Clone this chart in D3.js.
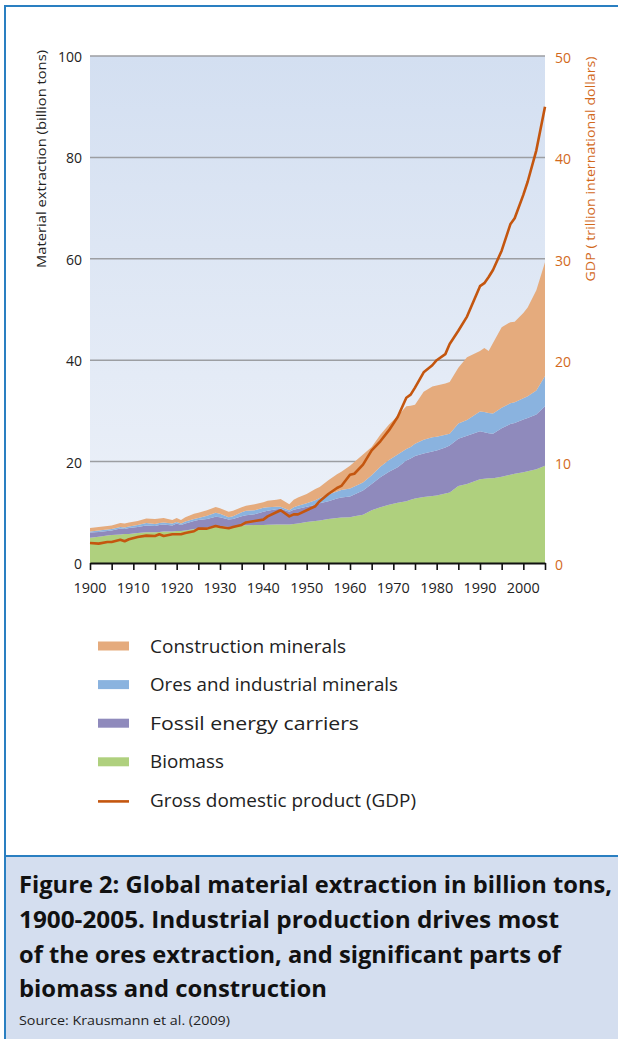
<!DOCTYPE html>
<html><head><meta charset="utf-8">
<script src="https://cdn.jsdelivr.net/npm/d3@7"></script>
<style>body{margin:0;background:#fff} text{font-family:"Open Sans",sans-serif}</style>
</head><body><svg id="c" width="618" height="1039"></svg>
<script>
const years=[1900,1902,1904,1905,1907,1908,1909,1911,1913,1915,1916,1917,1919,1920,1921,1922,1924,1925,1927,1929,1930,1932,1933,1935,1936,1938,1940,1941,1943,1944,1946,1947,1948,1950,1952,1953,1955,1957,1958,1960,1961,1963,1965,1967,1969,1971,1973,1974,1975,1977,1979,1980,1982,1983,1985,1987,1990,1991,1992,1993,1995,1997,1998,2000,2001,2003,2005];
const biomass=[5.0,5.2,5.4,5.5,5.6,5.7,5.7,5.9,6.05,6.05,6.1,6.2,6.2,6.3,6.3,6.4,6.7,6.8,7.0,7.3,7.3,7.1,7.2,7.4,7.45,7.5,7.5,7.55,7.6,7.6,7.6,7.7,7.8,8.1,8.3,8.4,8.7,8.9,8.95,9.0,9.2,9.5,10.4,11.0,11.5,11.9,12.2,12.5,12.7,13.0,13.2,13.3,13.7,13.9,15.2,15.6,16.5,16.6,16.7,16.7,17.0,17.4,17.6,17.9,18.1,18.5,19.2];
const fossil=[1.0,0.9,0.9,0.9,1.2,1.0,1.2,1.2,1.35,1.25,1.4,1.4,1.2,1.5,1.2,1.4,1.6,1.7,1.7,1.8,1.7,1.5,1.5,1.8,1.95,2.1,2.6,2.75,3.0,3.1,2.5,2.8,2.9,3.0,3.2,3.4,3.5,3.8,3.95,4.1,4.3,4.8,5.2,5.9,6.5,7.0,8.0,8.1,8.4,8.6,8.8,8.9,9.1,9.3,9.3,9.5,9.5,9.2,8.9,8.8,9.6,10.0,10.0,10.4,10.5,10.8,11.7];
const ores=[0.2,0.3,0.3,0.3,0.3,0.3,0.3,0.4,0.5,0.4,0.4,0.4,0.4,0.3,0.3,0.4,0.4,0.4,0.6,0.8,0.7,0.4,0.5,0.8,0.9,0.8,0.8,0.7,0.5,0.4,0.3,0.5,0.6,0.7,0.9,1.0,1.3,1.4,1.5,1.6,1.6,1.6,1.7,2.1,2.3,2.5,2.3,2.3,2.4,2.7,2.8,2.7,2.5,2.3,3.0,3.1,3.9,4.0,4.0,4.0,4.0,4.1,4.1,4.2,4.3,4.7,6.0];
const construction=[0.7,0.7,0.7,0.7,0.8,0.8,0.8,0.8,0.9,1.0,0.9,0.9,0.7,0.8,0.7,0.8,1.0,1.0,1.1,1.15,1.1,1.1,1.1,1.0,1.0,1.2,1.1,1.3,1.4,1.5,1.2,1.5,1.6,1.8,2.2,2.2,2.8,3.4,3.6,4.5,4.8,5.5,5.6,6.3,7.0,7.6,8.4,8.1,7.7,9.5,10.0,10.1,10.1,10.2,11.0,12.4,11.9,12.6,12.2,13.9,15.9,16.0,15.9,16.8,17.5,19.8,22.4];
const gdp=[1.97,1.91,2.07,2.07,2.30,2.14,2.34,2.56,2.70,2.66,2.83,2.66,2.83,2.83,2.83,2.96,3.13,3.39,3.39,3.65,3.55,3.42,3.55,3.75,4.0,4.14,4.28,4.6,5.0,5.2,4.6,4.8,4.8,5.2,5.6,6.1,6.8,7.4,7.6,8.7,8.8,9.7,11.1,12.0,13.1,14.4,16.3,16.6,17.3,18.8,19.5,20.0,20.6,21.6,22.9,24.3,27.3,27.6,28.2,28.9,30.8,33.4,34.0,36.3,37.6,40.7,45.0];
const xTickValues=d3.range(1900,2006,5);
const xLabelValues=[1900,1910,1920,1930,1940,1950,1960,1970,1980,1990,2000];
const leftTicks=[0,20,40,60,80,100];
const rightTicks=[0,10,20,30,40,50];
const keys=["biomass","fossil","ores","construction"];
const legendLabels=["Construction minerals","Ores and industrial minerals","Fossil energy carriers","Biomass","Gross domestic product (GDP)"];
const colors={construction:"#e5ab7d",ores:"#8ab3df",fossil:"#8f8abc",biomass:"#afd07e",gdp:"#c4560f"};
const captionLines=["Figure 2: Global material extraction in billion tons,","1900-2005. Industrial production drives most","of the ores extraction, and significant parts of","biomass and construction"];
const sourceText="Source: Krausmann et al. (2009)";

const svg=d3.select("#c");
const L=90,R=545,T=56,B=563;
const x=d3.scaleLinear().domain([1900,2005]).range([L,R]);
const y=d3.scaleLinear().domain([0,100]).range([B,T]);
const y2=d3.scaleLinear().domain([0,50]).range([B,T]);

const defs=svg.append("defs");
const g=defs.append("linearGradient").attr("id","bg").attr("x1",0).attr("y1",0).attr("x2",0).attr("y2",1);
g.append("stop").attr("offset","0%").attr("stop-color","#d3dff1");
g.append("stop").attr("offset","100%").attr("stop-color","#eef2f9");

// frame
svg.append("rect").attr("x",5).attr("y",856).attr("width",613).attr("height",183).attr("fill","#d4deef");
svg.append("line").attr("x1",5).attr("x2",618).attr("y1",6).attr("y2",6).attr("stroke","#2a7fc1").attr("stroke-width",2);
svg.append("line").attr("x1",5).attr("x2",618).attr("y1",856).attr("y2",856).attr("stroke","#2a7fc1").attr("stroke-width",2);
svg.append("line").attr("x1",5).attr("x2",5).attr("y1",5).attr("y2",1039).attr("stroke","#2a7fc1").attr("stroke-width",2);

// plot bg
svg.append("rect").attr("x",L).attr("y",T).attr("width",R-L).attr("height",B-T).attr("fill","url(#bg)");
// grid
svg.append("g").selectAll("line").data(leftTicks.filter(d=>d>0)).join("line")
  .attr("x1",L).attr("x2",R).attr("y1",d=>y(d)).attr("y2",d=>y(d)).attr("stroke","#9c9ea2").attr("stroke-width",1.5);

const data=years.map((yr,i)=>({year:yr,biomass:biomass[i],fossil:fossil[i],ores:ores[i],construction:construction[i],gdp:gdp[i]}));
const stacked=d3.stack().keys(keys)(data);
const area=d3.area().x(d=>x(d.data.year)).y0(d=>y(d[0])).y1(d=>y(d[1]));
svg.append("g").selectAll("path").data(stacked).join("path").attr("d",area).attr("fill",d=>colors[d.key]);

// gdp line
svg.append("path").datum(data).attr("fill","none").attr("stroke",colors.gdp).attr("stroke-width",2.6).attr("stroke-linejoin","round")
  .attr("d",d3.line().x(d=>x(d.year)).y(d=>y2(d.gdp)));

// x axis
const xa=svg.append("g").attr("transform",`translate(0,${B})`)
  .call(d3.axisBottom(x).tickValues(xTickValues).tickSize(7).tickSizeOuter(0).tickFormat(""));
xa.select(".domain").attr("stroke","#111").attr("stroke-width",2.2);
xa.selectAll(".tick line").attr("stroke","#111").attr("stroke-width",1.6);
svg.append("g").selectAll("text").data(xLabelValues).join("text")
  .attr("x",d=>x(d)).attr("y",593).attr("text-anchor","middle").attr("font-size",14).attr("fill","#222")
  .attr("textLength",33).attr("lengthAdjust","spacingAndGlyphs").text(d=>d);

// left labels
svg.append("g").selectAll("text").data(leftTicks).join("text")
  .attr("x",82).attr("y",d=>y(d)+6).attr("text-anchor","end").attr("font-size",14).attr("fill","#222").text(d=>d);
// right labels
svg.append("g").selectAll("text").data(rightTicks).join("text")
  .attr("x",555).attr("y",d=>y2(d)+7).attr("text-anchor","start").attr("font-size",14).attr("fill","#d2691c").text(d=>d);

svg.append("text").attr("transform","translate(46,159) rotate(-90)").attr("text-anchor","middle").attr("font-size",13.5).attr("fill","#222")
  .attr("textLength",218).attr("lengthAdjust","spacingAndGlyphs").text("Material extraction (billion tons)");
svg.append("text").attr("transform","translate(595,169) rotate(-90)").attr("text-anchor","middle").attr("font-size",13.5).attr("fill","#d2691c")
  .attr("textLength",225).attr("lengthAdjust","spacingAndGlyphs").text("GDP ( trillion international dollars)");

// legend
const lg=svg.append("g");
const legendKeys=["construction","ores","fossil","biomass","gdp"];
const legendW=[196,248,209,74,266];
legendKeys.forEach((k,i)=>{
  const cy=646+i*38.6;
  if(k==="gdp"){
    lg.append("line").attr("x1",98).attr("x2",129).attr("y1",cy+1).attr("y2",cy+1).attr("stroke",colors.gdp).attr("stroke-width",2.6);
  } else {
    lg.append("rect").attr("x",98).attr("y",cy-4.5).attr("width",31).attr("height",9).attr("fill",colors[k]);
  }
  lg.append("text").attr("x",150).attr("y",cy+6.5).attr("font-size",18).attr("fill","#222")
    .attr("textLength",legendW[i]).attr("lengthAdjust","spacingAndGlyphs").text(legendLabels[i]);
});

// caption
const capW=[593,540,542,308];
captionLines.forEach((t,i)=>{
  svg.append("text").attr("x",19).attr("y",893+i*34.8).attr("font-size",23).attr("font-weight","bold").attr("fill","#111")
    .attr("textLength",capW[i]).attr("lengthAdjust","spacingAndGlyphs").text(t);
});
svg.append("text").attr("x",19).attr("y",1025).attr("font-size",12).attr("fill","#222").attr("textLength",211).attr("lengthAdjust","spacingAndGlyphs").text(sourceText);
</script></body></html>
